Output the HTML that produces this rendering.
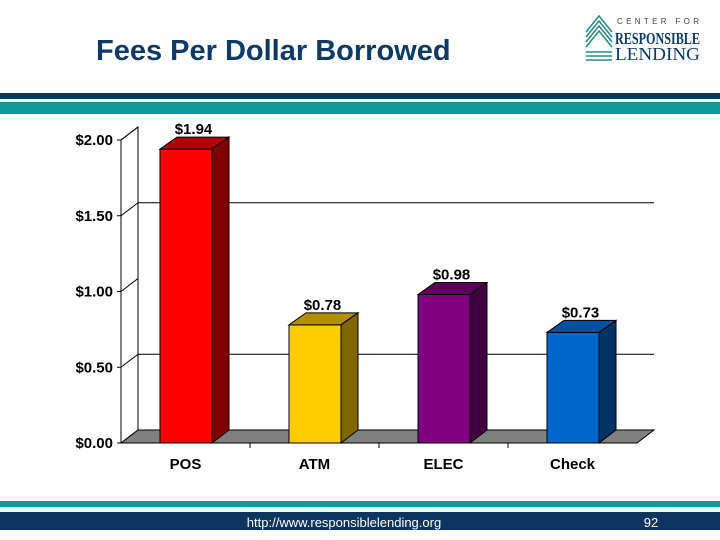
<!DOCTYPE html>
<html><head><meta charset="utf-8"><style>
body{margin:0;background:#fff}
svg{display:block;font-family:"Liberation Sans",Arial,sans-serif}
</style></head><body>
<svg id="c" width="720" height="540" viewBox="0 0 720 540">
<text x="96" y="60" font-size="29" font-weight="bold" fill="#0e3a68">Fees Per Dollar Borrowed</text>
<g>
<g stroke="#2a8a86" stroke-width="1.6" fill="none">
<path d="M586 32 L599 16 L612 32"/><path d="M586 37 L599 21 L612 37"/><path d="M586 42 L599 26 L612 42"/><path d="M586 47 L599 31 L612 47"/><path d="M586 52 L612 52"/><path d="M586 56 L612 56"/><path d="M586 60 L612 60"/>
</g>
<text x="617" y="24" font-size="8" fill="#444" textLength="82" lengthAdjust="spacing">CENTER FOR</text>
<text x="615" y="44" font-size="17" font-weight="bold" fill="#0e3a68" font-family="Liberation Serif,serif" textLength="85" lengthAdjust="spacingAndGlyphs">RESPONSIBLE</text>
<text x="615" y="60" font-size="18" fill="#0e3a68" font-family="Liberation Serif,serif" textLength="85" lengthAdjust="spacingAndGlyphs">LENDING</text>
</g>
<rect x="0" y="93" width="720" height="6" fill="#0e3460"/>
<rect x="0" y="102" width="720" height="12" fill="#12999a"/>
<rect x="0" y="501" width="720" height="6" fill="#12999a"/>
<rect x="0" y="512" width="720" height="18" fill="#0e3460"/>
<text x="344" y="527" font-size="13" fill="#fff" text-anchor="middle">http://www.responsiblelending.org</text>
<text x="651" y="527" font-size="13" fill="#fff" text-anchor="middle">92</text>
<g id="plot"></g>
</svg>
<script>
const categories=["POS","ATM","ELEC","Check"];
const values=[1.94,0.78,0.98,0.73];
const valueLabels=["$1.94","$0.78","$0.98","$0.73"];
const ticks=[0,0.5,1,1.5,2];
const tickLabels=["$0.00","$0.50","$1.00","$1.50","$2.00"];
const gridValues=[0.5,1.5];
const front=["#ff0000","#ffcc00","#800080","#0066cc"];
const topc=["#b30000","#b38f00","#5a005a","#0050a0"];
const side=["#800000","#806600","#400040","#003366"];
const NS="http://www.w3.org/2000/svg";
const g=document.getElementById('plot');
const X0=121,Y0=443,PW=516,DX=17,DY=13;
const y=v=>Y0-v*151.5;
const xc=i=>X0+PW/categories.length*(i+0.5);
function mk(t,a,p){const e=document.createElementNS(NS,t);for(const k in a)e.setAttribute(k,a[k]);(p||g).appendChild(e);return e;}
let e=mk('path',{d:`M${X0} ${Y0} L${X0} ${y(2)} L${X0+DX} ${y(2)-DY} L${X0+DX} ${Y0-DY}`,fill:'#fff',stroke:'#000','stroke-width':1});

ticks.forEach(v=>{
 const d=mk('line',{x1:X0,y1:y(v),x2:X0+DX,y2:y(v)-DY,stroke:'#000','stroke-width':1});
 
});
gridValues.forEach(v=>{
 const l=mk('path',{d:`M${X0+DX} ${y(v)-DY} L${X0+PW+DX} ${y(v)-DY}`,fill:'none',stroke:'#000','stroke-width':1});
 
});
e=mk('path',{d:`M${X0} ${Y0} L${X0+DX} ${Y0-DY} L${X0+PW+DX} ${Y0-DY} L${X0+PW} ${Y0} Z`,fill:'#808080',stroke:'#000','stroke-width':1});

ticks.forEach((v,i)=>{
 const t=mk('line',{x1:X0-4,x2:X0,y1:y(v),y2:y(v),stroke:'#000'});
 
 const tx=mk('text',{x:X0-8,y:y(v)+5,'font-size':15,'font-weight':'bold','text-anchor':'end'});
 tx.textContent=tickLabels[i];
 
});
const bw=52;
categories.forEach((c,i)=>{
 const x=xc(i)-bw/2+0.5,yt=y(values[i]);
 const b=mk('g',{});
 
 mk('rect',{x:x,y:yt,width:bw,height:Y0-yt,fill:front[i],stroke:'#000','stroke-width':1},b);
 mk('path',{d:`M${x} ${yt} L${x+DX} ${yt-DY+1} L${x+bw+DX} ${yt-DY+1} L${x+bw} ${yt} Z`,fill:topc[i],stroke:'#000','stroke-width':1},b);
 mk('path',{d:`M${x+bw} ${yt} L${x+bw+DX} ${yt-DY+1} L${x+bw+DX} ${Y0-DY} L${x+bw} ${Y0} Z`,fill:side[i],stroke:'#000','stroke-width':1},b);
 const vl=mk('text',{x:xc(i)+8,y:yt-DY-2,'font-size':15,'font-weight':'bold','text-anchor':'middle'});
 vl.textContent=valueLabels[i];
 
 const cl=mk('text',{x:xc(i),y:469,'font-size':15,'font-weight':'bold','text-anchor':'middle'});
 cl.textContent=c;
 
 if(i>0){const tk=mk('line',{x1:X0+PW/categories.length*i,x2:X0+PW/categories.length*i,y1:Y0,y2:Y0+5,stroke:'#000'});
 }
});
e=mk('line',{x1:X0,x2:X0+PW,y1:Y0,y2:Y0,stroke:'#000'});

e=mk('line',{x1:X0,x2:X0,y1:y(2),y2:Y0,stroke:'#000'});

</script>
</body></html>
